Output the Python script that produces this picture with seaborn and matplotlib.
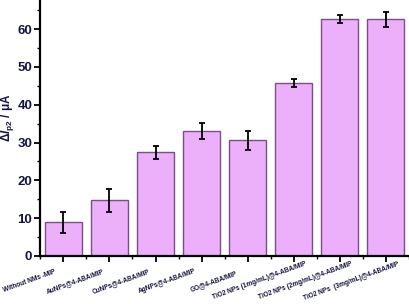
import matplotlib
matplotlib.use("Agg")
import matplotlib.pyplot as plt
import matplotlib.transforms as mtransforms
import seaborn as sns
import pandas as pd
import numpy as np
from matplotlib.ticker import MultipleLocator, FixedLocator

categories = ["Without NMs -MIP", "AuNPs@4-ABA/MIP", "CuNPs@4-ABA/MIP",
              "AgNPs@4-ABA/MIP", "GO@4-ABA/MIP", "TiO2 NPs (1mg/mL)@4-ABA/MIP",
              "TiO2 NPs (2mg/mL)@4-ABA/MIP", "TiO2 NPs  (3mg/mL)@4-ABA/MIP"]
values = [8.9, 14.7, 27.4, 33.0, 30.6, 45.7, 62.6, 62.6]
errors = [2.7, 3.0, 1.75, 2.1, 2.55, 1.1, 1.1, 2.0]

sns.set_style("white")
plt.rcParams['font.family'] = ['Liberation Sans', 'DejaVu Sans']
plt.rcParams['mathtext.fontset'] = 'custom'
plt.rcParams['mathtext.rm'] = 'Liberation Sans:bold'
plt.rcParams['mathtext.it'] = 'Liberation Sans:bold:italic'
plt.rcParams['mathtext.bf'] = 'Liberation Sans:bold'

txtcol = "#141440"
df = pd.DataFrame({"cat": categories, "val": values})

fig = plt.figure(figsize=(4.10, 3.04), dpi=100)
ax = fig.add_axes([40/410, 48/304, 370/410, 256/304])

sns.barplot(data=df, x="cat", y="val", color="#ECB0FB", edgecolor="#7a4f82",
            linewidth=1.0, width=0.8, saturation=1, ax=ax, errorbar=None)
ax.errorbar(np.arange(len(categories)), values, yerr=errors, fmt="none",
            ecolor="black", elinewidth=1.3, capsize=2.5, capthick=1.3)

ax.set_xlim(-0.51, 7.53)
ax.set_ylim(0, 67.7)
ax.yaxis.set_major_locator(MultipleLocator(10))
ax.yaxis.set_minor_locator(MultipleLocator(5))
ax.xaxis.set_minor_locator(FixedLocator(np.arange(-0.5, 8.0, 1.0)))

for s in ["top", "right"]:
    ax.spines[s].set_visible(False)
for s in ["left", "bottom"]:
    ax.spines[s].set_color("black")
    ax.spines[s].set_linewidth(1.6)

ax.tick_params(axis="both", which="major", direction="out", length=4, width=1.3,
               color="black", bottom=True, left=True)
ax.tick_params(axis="both", which="minor", direction="out", length=2.5, width=1.0,
               color="black", bottom=True, left=True)
ax.tick_params(axis="y", labelsize=9.5, labelcolor=txtcol, pad=1.5)
for t in ax.get_yticklabels():
    t.set_fontweight("bold")

ax.set_xticks(np.arange(len(categories)))
ax.set_xticklabels(categories, rotation=20, ha="center", va="center",
                   rotation_mode="anchor", fontsize=4.7, fontweight="bold",
                   color=txtcol)
ax.tick_params(axis="x", pad=14)
offset = mtransforms.ScaledTranslation(-34/100, 0, fig.dpi_scale_trans)
for lab in ax.get_xticklabels():
    lab.set_transform(lab.get_transform() + offset)
ax.set_xlabel("")
ax.set_ylabel(r"$\Delta \mathit{I}_{\mathrm{p2}}$ / μA", fontsize=8.5,
              fontweight="bold", color=txtcol)
ax.yaxis.set_label_coords(-0.065, 0.54)

fig.savefig("out.png", dpi=100)
